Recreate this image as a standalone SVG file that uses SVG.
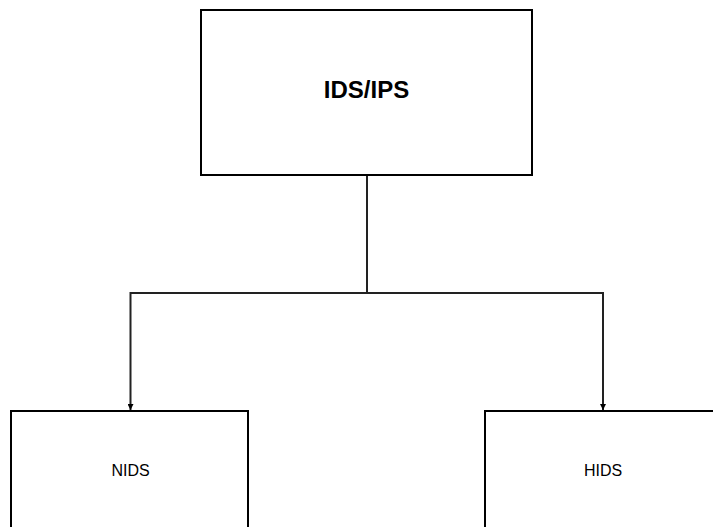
<svg xmlns="http://www.w3.org/2000/svg" width="713" height="527" viewBox="0 0 713 527">
<style>
.box{fill:#fff;stroke:#000;stroke-width:2}
.t{font-family:"Liberation Sans",Arial,sans-serif;fill:#000;text-anchor:middle}
.c{fill:none;stroke:#222;stroke-width:2}
</style>
<defs>
<marker id="ah" viewBox="0 0 6 6" refX="6" refY="3" markerWidth="3" markerHeight="3" orient="auto" markerUnits="strokeWidth">
<path d="M0,0L6,3L0,6z" fill="#000"/>
</marker>
</defs>
<rect width="713" height="527" fill="#fff"/>
<g id="connectors">
<path class="c" d="M367,175V293"/>
<path class="c" d="M367,293H130.5V410" marker-end="url(#ah)"/>
<path class="c" d="M367,293H603V410" marker-end="url(#ah)"/>
</g>
<g id="ids-ips">
<rect class="box" x="201" y="10" width="331" height="165"/>
<text class="t" x="366.5" y="98" font-size="24" font-weight="bold">IDS/IPS</text>
</g>
<g id="nids">
<rect class="box" x="11" y="411" width="237" height="130"/>
<text class="t" x="130.5" y="476" font-size="16">NIDS</text>
</g>
<g id="hids">
<rect class="box" x="485" y="411" width="237" height="130"/>
<text class="t" x="603" y="476" font-size="16">HIDS</text>
</g>
</svg>
